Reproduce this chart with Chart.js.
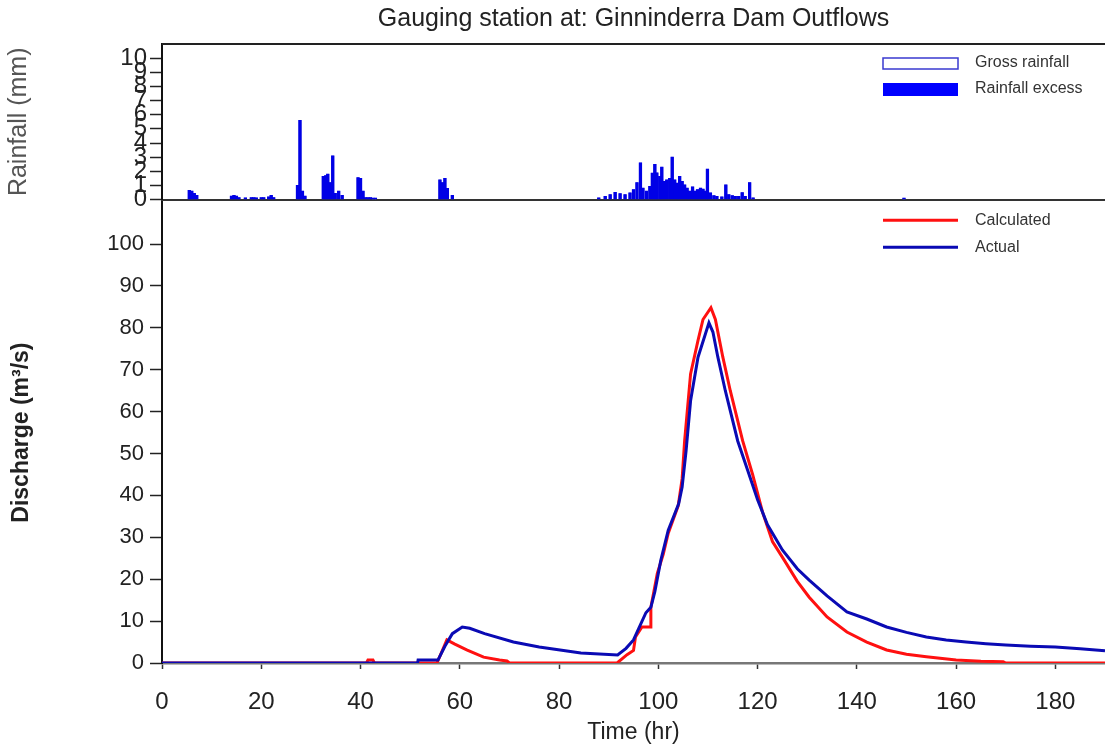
<!DOCTYPE html>
<html>
<head>
<meta charset="utf-8">
<title>Ginninderra Dam Outflows</title>
<script src="https://cdn.jsdelivr.net/npm/chart.js@4.4.1/dist/chart.umd.min.js"></script>
<style>
  html, body { margin: 0; padding: 0; background: #fff; }
  #wrap { position: relative; width: 1105px; height: 753px; }
  #rainCanvas { position: absolute; left: 0; top: 0; }
  #flowCanvas { position: absolute; left: 0; top: 183px; }
</style>
</head>
<body>
<div id="wrap">
  <canvas id="rainCanvas" width="1105" height="217"></canvas>
  <canvas id="flowCanvas" width="1105" height="570"></canvas>
</div>
<script>
// hyetograph (non-zero steps only), hours / mm
const rainHours = [5.5, 6.0, 6.5, 7.0,
  14.0, 14.5, 15.0, 15.5, 16.8, 18.0, 18.5, 19.0, 20.0, 20.5, 21.5, 22.0, 22.5,
  27.3, 27.8, 28.3, 28.8,
  32.5, 33.0, 33.4, 33.9, 34.4, 34.9, 35.6, 36.3,
  39.5, 40.0, 40.5, 41.0, 41.5, 42.0, 42.5, 43.0,
  56.0, 56.5, 57.0, 57.5, 58.5,
  88.0, 89.3, 90.3, 91.3, 92.3, 93.3, 94.3, 95.0, 95.7, 96.4, 96.9, 97.6, 98.3, 98.8,
  99.3, 99.7, 100.3, 100.7, 101.2, 101.7, 102.3, 102.8, 103.3, 103.8, 104.3, 104.8,
  105.3, 105.8, 106.3, 106.9, 107.4, 107.9, 108.5, 109.0, 109.5, 109.9, 110.5, 111.2,
  111.8, 112.8, 113.6, 114.2, 114.9, 115.5, 116.2, 116.9, 117.5, 118.4, 119.1,
  149.5];
const rainDepth = [0.65, 0.6, 0.45, 0.3,
  0.25, 0.3, 0.25, 0.15, 0.12, 0.15, 0.15, 0.12, 0.15, 0.15, 0.2, 0.3, 0.15,
  1.0, 5.6, 0.6, 0.25,
  1.65, 1.7, 1.8, 1.2, 3.1, 0.45, 0.6, 0.3,
  1.55, 1.5, 0.6, 0.15, 0.15, 0.15, 0.1, 0.1,
  1.4, 1.2, 1.5, 0.8, 0.3,
  0.12, 0.24, 0.35, 0.52, 0.42, 0.35, 0.47, 0.7, 1.2, 2.6, 0.82, 0.6, 0.94, 1.88,
  2.5, 1.9, 1.65, 2.3, 1.3, 1.4, 1.5, 3.0, 1.4, 1.17, 1.65, 1.3,
  1.05, 0.82, 0.6, 0.9, 0.6, 0.7, 0.82, 0.75, 0.6, 2.15, 0.47, 0.28,
  0.24, 0.2, 1.05, 0.35, 0.28, 0.24, 0.24, 0.5, 0.24, 1.2, 0.12,
  0.1];

// discharge hydrographs, hours / m3/s
const calcHours = [0, 41.2, 41.5, 42.5, 42.8, 55.4, 56.5, 57.4, 59, 61.5, 64.8, 68, 69.5, 70,
  91.7, 93.7, 95, 95.4, 96.7, 98.4, 98.5, 99.8, 101, 102, 104, 104.8, 105.3, 106.5, 108, 109,
  110.6, 111.5, 113, 114.5, 117, 119, 121, 123, 125.4, 128, 130.4, 134, 138, 142, 146, 150,
  154, 160, 165, 169.5, 170, 190];
const calcFlow = [0, 0, 0.7, 0.7, 0, 0, 3, 5.5, 4.5, 3.1, 1.4, 0.7, 0.5, 0,
  0, 2, 3, 6.2, 8.6, 8.6, 13.3, 21.4, 26, 31, 37.5, 44, 53, 69, 77, 82,
  84.8, 82, 73, 65, 53, 45, 36, 29, 24.5, 19.5, 15.7, 11, 7.4, 5, 3.1, 2.1,
  1.5, 0.7, 0.4, 0.3, 0, 0];

const actHours = [0, 51.5, 51.6, 55.6, 57, 58.5, 60.5, 62, 65, 70.8, 76, 84.4, 91.8,
  93.5, 95, 97.5, 98.5, 99.3, 100.5, 102, 104.1, 104.8, 105.6, 106.5, 108, 110.2, 111, 112,
  113.5, 116, 118, 120, 122, 125, 128, 130.4, 134, 138, 142, 146, 150, 154, 158, 162, 166,
  170, 175, 180, 185, 190];
const actFlow = [0, 0, 0.7, 0.7, 4, 7, 8.6, 8.3, 7, 5, 3.8, 2.4, 1.9,
  3.5, 5.5, 12, 13.3, 17, 24.5, 31.7, 38, 42, 50.7, 62.6, 73, 81.2, 79, 73,
  65, 53, 46, 39, 33, 27, 22.5, 19.8, 16, 12.2, 10.5, 8.6, 7.3, 6.2, 5.5, 5, 4.6,
  4.3, 4, 3.8, 3.4, 2.9];

const xTicks = [0, 20, 40, 60, 80, 100, 120, 140, 160, 180];

const FONT = '"Liberation Sans", Arial, sans-serif';
const pairs = (xs, ys) => xs.map((x, i) => ({ x: x, y: ys[i] }));

// legend in the top-right corner of each panel
const cornerLegend = {
  id: 'cornerLegend',
  afterDraw(chart, args, opts) {
    const ctx = chart.ctx;
    const x0 = chart.chartArea.right - 222;
    ctx.save();
    ctx.font = '16px ' + FONT;
    ctx.textBaseline = 'middle';
    chart.data.datasets.forEach((ds, i) => {
      const y = chart.chartArea.top + opts.top + i * opts.gap;
      if (chart.config.type === 'bar') {
        if (i === 0) {
          ctx.fillStyle = '#fff';
          ctx.fillRect(x0, y - 5, 75, 11);
          ctx.strokeStyle = '#3a3ad0';
          ctx.lineWidth = 1.5;
          ctx.strokeRect(x0, y - 5, 75, 11);
        } else {
          ctx.fillStyle = '#0000ff';
          ctx.fillRect(x0, y - 6, 75, 13);
        }
      } else {
        ctx.strokeStyle = ds.borderColor;
        ctx.lineWidth = 3;
        ctx.beginPath();
        ctx.moveTo(x0, y);
        ctx.lineTo(x0 + 75, y);
        ctx.stroke();
      }
      ctx.fillStyle = '#333';
      ctx.fillText(ds.label, x0 + 92, y);
    });
    ctx.restore();
  }
};

// black frame line along the top of the rainfall panel
const topFrame = {
  id: 'topFrame',
  afterDraw(chart) {
    const a = chart.chartArea;
    const ctx = chart.ctx;
    ctx.save();
    ctx.strokeStyle = '#222';
    ctx.lineWidth = 2;
    ctx.beginPath();
    ctx.moveTo(a.left, a.top);
    ctx.lineTo(a.right, a.top);
    ctx.stroke();
    ctx.restore();
  }
};

Chart.defaults.font.family = FONT;
Chart.defaults.color = '#222';

new Chart(document.getElementById('rainCanvas'), {
  type: 'bar',
  data: {
    datasets: [
      {
        label: 'Gross rainfall',
        data: pairs(rainHours, rainDepth),
        backgroundColor: '#ffffff',
        borderColor: '#3a3ad0',
        borderWidth: 1,
        grouped: false,
        barThickness: 2.6,
        order: 2
      },
      {
        label: 'Rainfall excess',
        data: pairs(rainHours, rainDepth),
        backgroundColor: '#0000e6',
        borderWidth: 0,
        grouped: false,
        barThickness: 2.6,
        order: 1
      }
    ]
  },
  options: {
    responsive: false,
    animation: false,
    devicePixelRatio: 1,
    layout: { padding: { left: 0, right: 0, top: 0, bottom: 2 } },
    plugins: {
      legend: { display: false },
      tooltip: { enabled: false },
      title: {
        display: true,
        fullSize: false,
        text: 'Gauging station at: Ginninderra Dam Outflows',
        color: '#222',
        font: { size: 25, weight: 'normal' },
        padding: { top: 4, bottom: 10 }
      },
      cornerLegend: { top: 19, gap: 26 }
    },
    scales: {
      x: {
        type: 'linear',
        offset: false,
        min: 0,
        max: 190,
        ticks: { display: false },
        grid: { display: false, drawTicks: false, offset: false },
        border: { display: true, color: '#333', width: 2 }
      },
      y: {
        min: 0,
        max: 11,
        ticks: { stepSize: 1, autoSkip: false, font: { size: 24 }, color: '#222', padding: 3 },
        afterBuildTicks: (s) => { s.ticks = s.ticks.filter(t => t.value <= 10); },
        afterFit: (s) => { s.width = 162; },
        grid: { drawOnChartArea: false, tickLength: 12, tickColor: '#222', tickWidth: 1.5 },
        border: { color: '#111', width: 2 },
        title: { display: true, text: 'Rainfall (mm)', color: '#555', font: { size: 25 }, padding: 4 }
      }
    }
  },
  plugins: [cornerLegend, topFrame]
});

new Chart(document.getElementById('flowCanvas'), {
  type: 'line',
  data: {
    datasets: [
      {
        label: 'Calculated',
        data: pairs(calcHours, calcFlow),
        borderColor: '#ff1010',
        borderWidth: 3,
        pointRadius: 0,
        tension: 0,
        order: 2
      },
      {
        label: 'Actual',
        data: pairs(actHours, actFlow),
        borderColor: '#0a0ab4',
        borderWidth: 3,
        pointRadius: 0,
        tension: 0,
        order: 1
      }
    ]
  },
  options: {
    responsive: false,
    animation: false,
    devicePixelRatio: 1,
    layout: { padding: { left: 0, right: 0, top: 10, bottom: 0 } },
    plugins: {
      legend: { display: false },
      tooltip: { enabled: false },
      cornerLegend: { top: 18, gap: 27 }
    },
    scales: {
      x: {
        type: 'linear',
        min: 0,
        max: 190,
        ticks: { stepSize: 20, font: { size: 24 }, color: '#222', padding: 19 },
        afterBuildTicks: (s) => { s.ticks = xTicks.map(v => ({ value: v })); },
        afterFit: (s) => { s.height = 90; },
        grid: { drawOnChartArea: false, tickLength: 6, tickColor: '#333', tickWidth: 1.5 },
        border: { color: '#777', width: 2.5 },
        title: { display: true, text: 'Time (hr)', color: '#222', font: { size: 23 }, padding: { top: 2, bottom: 7 } }
      },
      y: {
        min: 0,
        max: 110,
        ticks: { stepSize: 10, font: { size: 22 }, color: '#222', padding: 6 },
        afterBuildTicks: (s) => { s.ticks = s.ticks.filter(t => t.value <= 100); },
        afterFit: (s) => { s.width = 162; },
        grid: { drawOnChartArea: false, tickLength: 12, tickColor: '#222', tickWidth: 1.5 },
        border: { color: '#111', width: 2 },
        title: { display: true, text: 'Discharge (m\u00b3/s)', color: '#222', font: { size: 23, weight: 'bold' }, padding: 8 }
      }
    }
  },
  plugins: [cornerLegend]
});
</script>
</body>
</html>
